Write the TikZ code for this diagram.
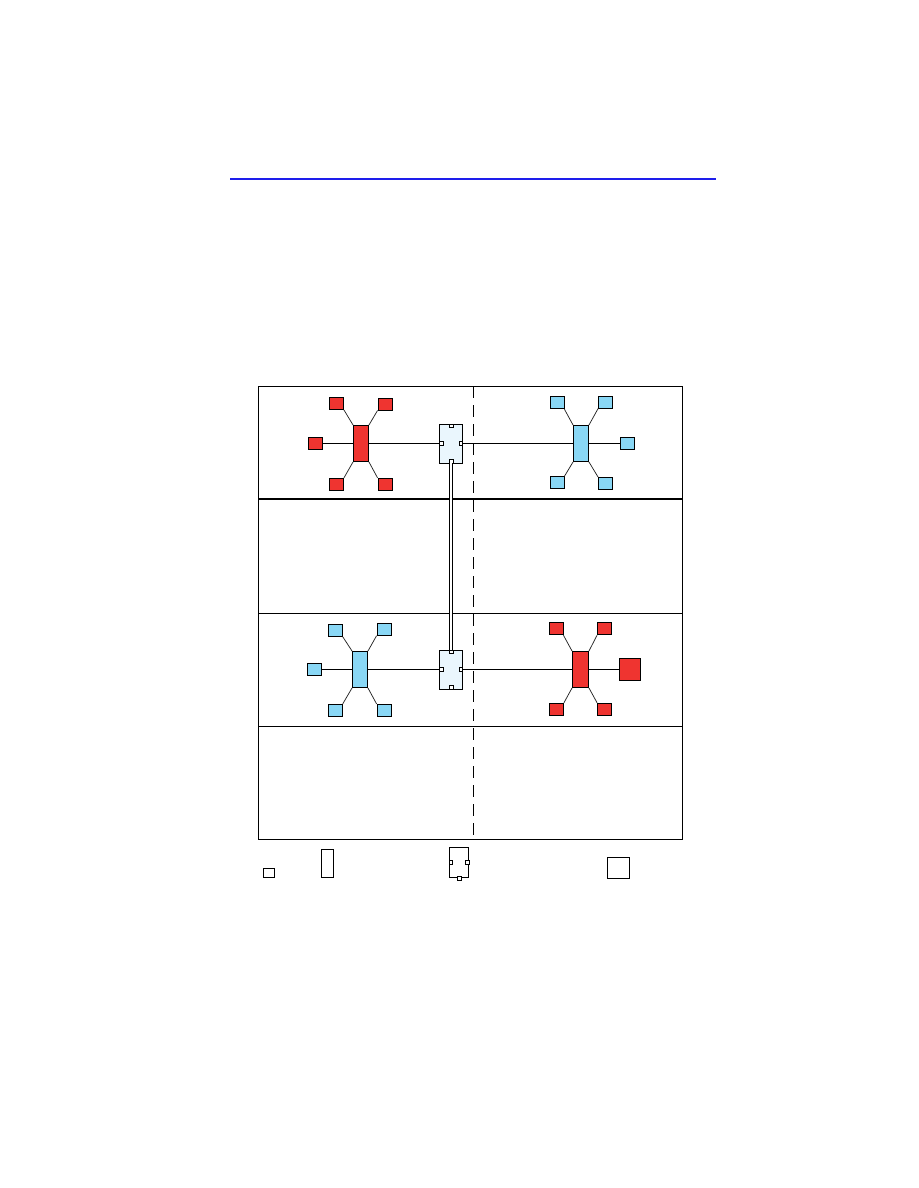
\documentclass[tikz,border=0pt]{standalone}
\usepackage{tikz}
\usetikzlibrary{positioning, calc}
\definecolor{hostred}{RGB}{239,52,48}
\definecolor{hostblue}{RGB}{137,215,245}
\definecolor{swfill}{RGB}{234,246,253}
\definecolor{rulebl}{RGB}{30,30,235}

\tikzset{
  host/.style={draw, line width=0.9pt, inner sep=0pt, minimum width=14pt, minimum height=12pt},
  hub/.style={draw, line width=0.9pt, inner sep=0pt, minimum width=15pt, minimum height=36pt},
  switchbox/.style={draw, line width=0.9pt, fill=swfill, inner sep=0pt, minimum width=23pt, minimum height=39pt},
  port/.style={draw, line width=0.6pt, fill=white, inner sep=0pt, minimum width=3.6pt, minimum height=3.6pt},
  wire/.style={line width=1pt},
  spoke/.style={line width=0.75pt, black!85},
  frame/.style={line width=1pt}
}

\begin{document}
\begin{tikzpicture}[x=1pt, y=-1pt]
  \useasboundingbox (0,0) rectangle (918,1188);

  % header rule
  \draw[rulebl, line width=2.5pt] (230,179) -- (716,179);

  % frame and bands
  \draw[frame] (258,386) rectangle (682,839);
  \draw[line width=2pt] (258,499) -- (682,499);
  \draw[frame] (258,613) -- (682,613);
  \draw[frame] (258,726) -- (682,726);
  \draw[line width=0.9pt, dash pattern=on 12pt off 7pt] (473,386) -- (473,842);

  % TOP LEFT: red hub
  \node[hub, fill=hostred] (hubA) at (361,443.5) {};
  \node[host, fill=hostred] (a1) at (336.5,403.5) {};
  \node[host, fill=hostred] (a2) at (385,404) {};
  \node[host, fill=hostred] (a3) at (315.5,443.5) {};
  \node[host, fill=hostred] (a4) at (336.5,484.3) {};
  \node[host, fill=hostred] (a5) at (385,484.3) {};
  \draw[spoke] (a1.south east) -- (hubA.north west);
  \draw[spoke] (a2.south west) -- (hubA.north east);
  \draw[wire] (a3.east) -- (hubA.west);
  \draw[spoke] (a4.north east) -- (hubA.south west);
  \draw[spoke] (a5.north west) -- (hubA.south east);

  % top switch
  \node[switchbox] (sw1) at (451,443.5) {};
  \node[port, anchor=west] (sw1w) at (sw1.west) {};
  \node[port, anchor=east] (sw1e) at (sw1.east) {};
  \node[port, anchor=north] (sw1n) at (sw1.north) {};
  \node[port, anchor=south] (sw1s) at (sw1.south) {};

  % TOP RIGHT: blue hub
  \node[hub, fill=hostblue] (hubB) at (581,443.5) {};
  \node[host, fill=hostblue] (b1) at (557,402.8) {};
  \node[host, fill=hostblue] (b2) at (605.5,402.2) {};
  \node[host, fill=hostblue] (b3) at (627,443.5) {};
  \node[host, fill=hostblue] (b4) at (557,482.7) {};
  \node[host, fill=hostblue] (b5) at (605.5,483.5) {};
  \draw[spoke] (b1.south east) -- (hubB.north west);
  \draw[spoke] (b2.south west) -- (hubB.north east);
  \draw[wire] (hubB.east) -- (b3.west);
  \draw[spoke] (b4.north east) -- (hubB.south west);
  \draw[spoke] (b5.north west) -- (hubB.south east);

  \draw[wire] (hubA.east) -- (sw1w.west);
  \draw[wire] (sw1e.east) -- (hubB.west);

  % BOTTOM LEFT: blue hub
  \node[hub, fill=hostblue] (hubC) at (360,669.5) {};
  \node[host, fill=hostblue] (c1) at (335.3,630.3) {};
  \node[host, fill=hostblue] (c2) at (384,629.3) {};
  \node[host, fill=hostblue] (c3) at (314.5,669.5) {};
  \node[host, fill=hostblue] (c4) at (335.3,710.3) {};
  \node[host, fill=hostblue] (c5) at (384,710.3) {};
  \draw[spoke] (c1.south east) -- (hubC.north west);
  \draw[spoke] (c2.south west) -- (hubC.north east);
  \draw[wire] (c3.east) -- (hubC.west);
  \draw[spoke] (c4.north east) -- (hubC.south west);
  \draw[spoke] (c5.north west) -- (hubC.south east);

  % bottom switch
  \node[switchbox] (sw2) at (451,669.5) {};
  \node[port, anchor=west] (sw2w) at (sw2.west) {};
  \node[port, anchor=east] (sw2e) at (sw2.east) {};
  \node[port, anchor=north] (sw2n) at (sw2.north) {};
  \node[port, anchor=south] (sw2s) at (sw2.south) {};

  % BOTTOM RIGHT: red hub
  \node[hub, fill=hostred, minimum width=16pt] (hubD) at (580.5,669.5) {};
  \node[host, fill=hostred] (d1) at (556,628.8) {};
  \node[host, fill=hostred] (d2) at (604.5,628.8) {};
  \node[host, fill=hostred, minimum width=21.5pt, minimum height=21.5pt] (d3) at (630,669.5) {};
  \node[host, fill=hostred] (d4) at (556.5,709.2) {};
  \node[host, fill=hostred] (d5) at (604.5,709.2) {};
  \draw[spoke] (d1.south east) -- (hubD.north west);
  \draw[spoke] (d2.south west) -- (hubD.north east);
  \draw[wire] (hubD.east) -- (d3.west);
  \draw[spoke] (d4.north east) -- (hubD.south west);
  \draw[spoke] (d5.north west) -- (hubD.south east);

  \draw[wire] (hubC.east) -- (sw2w.west);
  \draw[wire] (sw2e.east) -- (hubD.west);

  % trunk between switches
  \draw[line width=0.7pt, double, double distance=2pt] (sw1s.south) -- (sw2n.north);

  % legend
  \node[host, minimum width=11pt, minimum height=9.5pt] (keyhost) at (268.8,873) {};
  \node[hub, minimum width=12.3pt, minimum height=28.7pt] (keyhub) at (327.2,863.3) {};
  \node[switchbox, fill=none, minimum width=19.4pt, minimum height=30.4pt] (keysw) at (459,862.5) {};
  \node[port, anchor=west] (keyw) at (keysw.west) {};
  \node[port, anchor=east] (keye) at (keysw.east) {};
  \node[port] (keys) at (keysw.south) {};
  \node[host, minimum width=22pt, minimum height=21.4pt] (keybig) at (618.3,868) {};
\end{tikzpicture}
\end{document}
